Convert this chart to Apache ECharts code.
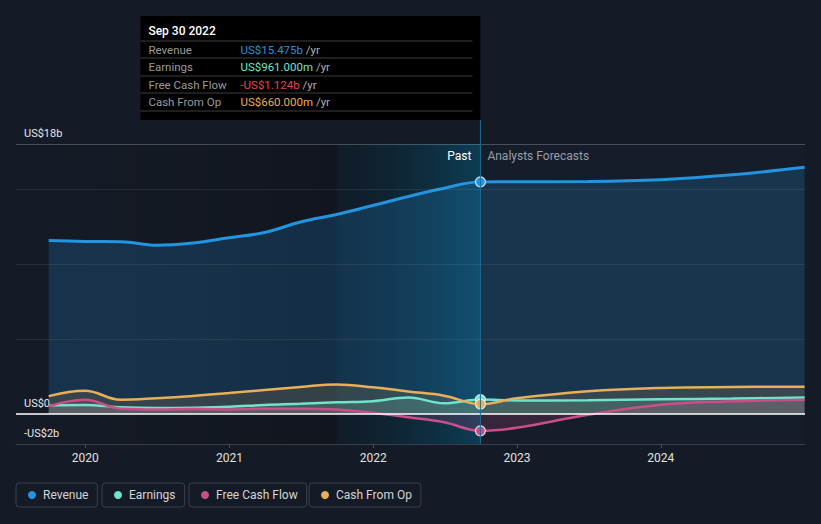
<!DOCTYPE html>
<html><head><meta charset="utf-8">
<script src="https://cdn.jsdelivr.net/npm/echarts@6/dist/echarts.min.js"></script>
<style>html,body{margin:0;padding:0;background:#151b26;}#c{width:821px;height:524px;}</style>
</head><body><div id="c"></div>
<script>
// ---- data (US$ billions) ----
const pastDates = ['2019-09-30','2019-12-31','2020-03-31','2020-06-30','2020-09-30','2020-12-31','2021-03-31','2021-06-30','2021-09-30','2021-12-31','2022-03-31','2022-06-30','2022-09-30'];
const forecastDates = ['2022-12-31','2023-06-30','2023-12-31','2024-06-30','2024-12-31'];
const revenuePast = [11.56, 11.5, 11.49, 11.25, 11.4, 11.75, 12.1, 12.8, 13.3, 13.9, 14.5, 15.05, 15.475];
const revenueFc = [15.48, 15.5, 15.62, 15.95, 16.45];
const earningsPast = [0.57, 0.6, 0.45, 0.4, 0.42, 0.48, 0.6, 0.68, 0.78, 0.85, 1.1, 0.72, 0.961];
const earningsFc = [0.9, 0.92, 0.98, 1.03, 1.1];
const fcfPast = [0.52, 0.95, 0.35, 0.3, 0.33, 0.3, 0.35, 0.35, 0.3, 0.08, -0.22, -0.55, -1.124];
const fcfFc = [-0.92, -0.05, 0.62, 0.85, 0.95];
const cfoPast = [1.19, 1.55, 0.95, 1.05, 1.2, 1.4, 1.6, 1.8, 1.97, 1.78, 1.5, 1.22, 0.66];
const cfoFc = [1.05, 1.52, 1.74, 1.8, 1.82];
const seriesNames = ['Revenue', 'Earnings', 'Free Cash Flow', 'Cash From Op'];
const yTickLabels = {'18': 'US$18b', '0': 'US$0', '-2': '-US$2b'};
const gridLineValues = [5, 10, 15];
const axisMin = '2019-07-09', axisMax = '2025-01-01';
const highlightStart = '2021-09-30';

// ---- styles ----
const FONT = 'Roboto, "Noto Sans", sans-serif';
const colors = ['#2394df', '#6fe3cc', '#c94f8a', '#e9ae5a'];
const valueColors = ['#2394df', '#6fe3cc', '#e8434b', '#e9ae5a'];
const cursorDate = pastDates[pastDates.length - 1];
const dates = pastDates.concat(forecastDates);
function pairs(p, f) { return dates.map((d, i) => [d, i < p.length ? p[i] : f[i - p.length]]); }

function lineSeries(idx, past, fc, width, areaOpacity, z) {
  const color = colors[idx];
  return {
    name: seriesNames[idx], type: 'line', data: pairs(past, fc),
    smooth: 0.4, showSymbol: false, z: z,
    lineStyle: { color, width }, itemStyle: { color },
    areaStyle: { color, opacity: areaOpacity },
    emphasis: { disabled: true }, silent: true,
    markPoint: {
      symbol: 'circle', symbolSize: 10, silent: true,
      itemStyle: { color, borderColor: 'rgba(235,245,255,0.85)', borderWidth: 1.2 },
      label: { show: false },
      data: [{ coord: [cursorDate, past[past.length - 1]] }]
    }
  };
}

const chart = echarts.init(document.getElementById('c'), null, { renderer: 'svg' });

const bgSeries = {
  type: 'line', data: [], z: 1, silent: true,
  markArea: {
    silent: true,
    data: [
      [{ xAxis: pastDates[0], itemStyle: { color: { type: 'linear', x: 0, y: 0, x2: 1, y2: 0,
          colorStops: [{ offset: 0, color: 'rgba(0,0,0,0)' }, { offset: 1, color: 'rgba(0,0,0,0.22)' }] } } },
       { xAxis: highlightStart }],
      [{ xAxis: highlightStart, itemStyle: { color: { type: 'linear', x: 0, y: 0, x2: 1, y2: 0,
          colorStops: [{ offset: 0, color: 'rgba(2,30,45,0.25)' }, { offset: 1, color: 'rgba(5,95,130,0.5)' }] } } },
       { xAxis: cursorDate }],
      [{ xAxis: cursorDate, itemStyle: { color: 'rgba(30,50,75,0.12)' } }, { xAxis: forecastDates[forecastDates.length - 1] }]
    ]
  },
  markLine: {
    silent: true, symbol: 'none', label: { show: false },
    data: gridLineValues.map(v => ({ yAxis: v, lineStyle: { color: 'rgba(255,255,255,0.08)', width: 1, type: 'solid' } }))
      .concat([{ yAxis: 18, lineStyle: { color: 'rgba(255,255,255,0.22)', width: 1, type: 'solid' } }])
  }
};

const zeroSeries = {
  type: 'line', data: [], z: 5, silent: true,
  markLine: { silent: true, symbol: 'none', label: { show: false },
    data: [{ yAxis: 0, lineStyle: { color: '#ffffff', width: 1.5, type: 'solid' } }] }
};

const legendLefts = [16, 102, 189, 309];

chart.setOption({
  backgroundColor: '#151b26',
  animation: false,
  textStyle: { fontFamily: FONT },
  grid: { left: 16, right: 16, top: 144, bottom: 80, containLabel: false, outerBoundsMode: 'none' },
  xAxis: {
    type: 'time', min: axisMin, max: axisMax, minInterval: 365 * 86400000,
    axisLine: { onZero: false, lineStyle: { color: '#3a404b', width: 1 } },
    axisTick: { show: true, length: 4, lineStyle: { color: '#4a505b' } },
    splitLine: { show: false },
    axisLabel: {
      color: '#e0e0e0', fontSize: 12, margin: 8, fontFamily: FONT, showMaxLabel: false, showMinLabel: false,
      formatter: v => { const d = new Date(v); return (d.getMonth() === 0 && d.getDate() === 1) ? String(d.getFullYear()) : ''; }
    }
  },
  yAxis: {
    type: 'value', min: -2, max: 18, interval: 1,
    axisLine: { show: false }, axisTick: { show: false }, splitLine: { show: false },
    axisLabel: {
      inside: true, margin: 8, color: '#e6e6e6', fontSize: 11, fontFamily: FONT,
      verticalAlign: 'bottom', padding: [0, 0, 5, 0],
      formatter: v => yTickLabels[String(v)] || ''
    }
  },
  legend: seriesNames.map((n, i) => ({
    data: [n], left: legendLefts[i], top: 483, orient: 'horizontal',
    padding: [6, 9, 6, 12], itemWidth: 8, itemHeight: 8, icon: 'circle',
    borderColor: '#3a404b', borderWidth: 1, borderRadius: 3, selectedMode: false,
    textStyle: { color: '#d4d4d4', fontSize: 12, fontFamily: FONT, padding: [0, 0, 0, 2] }
  })),
  series: [
    bgSeries,
    lineSeries(0, revenuePast, revenueFc, 3, 0.2, 3),
    lineSeries(1, earningsPast, earningsFc, 2.5, 0.18, 4),
    lineSeries(2, fcfPast, fcfFc, 2.5, 0.18, 4),
    lineSeries(3, cfoPast, cfoFc, 2.5, 0.15, 4),
    zeroSeries
  ]
});

// ---- static tooltip & labels positioned via the chart's own scales ----
const cx = chart.convertToPixel({ gridIndex: 0 }, [cursorDate, 0])[0];
const yBottom = chart.convertToPixel({ gridIndex: 0 }, [cursorDate, -2])[1];
const yTop = chart.convertToPixel({ gridIndex: 0 }, [cursorDate, 18])[1];
const months = ['Jan','Feb','Mar','Apr','May','Jun','Jul','Aug','Sep','Oct','Nov','Dec'];
const cd = cursorDate.split('-');
const title = months[parseInt(cd[1], 10) - 1] + ' ' + parseInt(cd[2], 10) + ' ' + cd[0];
function fmt(v) {
  const a = Math.abs(v), s = v < 0 ? '-' : '';
  return a >= 1 ? s + 'US$' + a.toFixed(3) + 'b' : s + 'US$' + (a * 1000).toFixed(3) + 'm';
}
const lastVals = [revenuePast, earningsPast, fcfPast, cfoPast].map(a => a[a.length - 1]);
const boxW = 340, boxX = cx - boxW, boxY = 16, boxH = 104;
const g = [
  { type: 'line', silent: true, z: 50, shape: { x1: cx, y1: boxY + boxH, x2: cx, y2: yBottom }, style: { stroke: '#1d6d90', lineWidth: 1 } },
  { type: 'rect', silent: true, z: 60, shape: { x: boxX, y: boxY, width: boxW, height: boxH }, style: { fill: '#000000' } },
  { type: 'text', silent: true, z: 61, x: boxX + 8, y: 31, style: { text: title, fill: '#ffffff', font: '500 12px ' + FONT, verticalAlign: 'middle', align: 'left' } },
  { type: 'text', silent: true, z: 55, x: cx - 9, y: yTop + 12, style: { text: 'Past', fill: '#ffffff', font: '12px ' + FONT, verticalAlign: 'middle', align: 'right' } },
  { type: 'text', silent: true, z: 55, x: cx + 7, y: yTop + 12, style: { text: 'Analysts Forecasts', fill: '#9a9ea6', font: '12px ' + FONT, verticalAlign: 'middle', align: 'left' } }
];
[41, 58, 76, 93, 111].forEach(y => g.push({ type: 'line', silent: true, z: 61, shape: { x1: boxX, y1: y, x2: cx - 8, y2: y }, style: { stroke: '#3c3c3c', lineWidth: 1 } }));
const rowY = [49.5, 67, 84.5, 101.5];
seriesNames.forEach((n, i) => {
  g.push({ type: 'text', silent: true, z: 61, x: boxX + 8, y: rowY[i], style: { text: n, fill: '#9a9a9a', font: '11.5px ' + FONT, verticalAlign: 'middle', align: 'left' } });
  g.push({ type: 'text', silent: true, z: 61, x: boxX + 100, y: rowY[i], style: {
    text: '{v|' + fmt(lastVals[i]) + '} {u|/yr}', verticalAlign: 'middle', align: 'left', font: '11.5px ' + FONT,
    rich: { v: { fill: valueColors[i], font: '11.5px ' + FONT }, u: { fill: '#b0b0b0', font: '11.5px ' + FONT } } } });
});
chart.setOption({ graphic: g });
</script></body></html>
